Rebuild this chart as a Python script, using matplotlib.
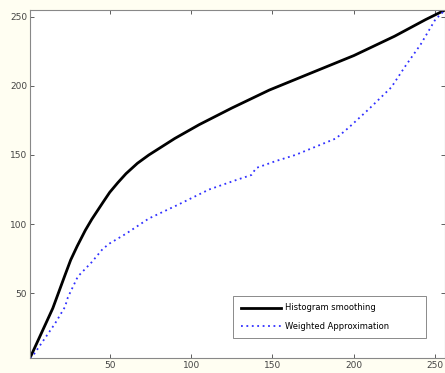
import numpy as np
import matplotlib.pyplot as plt

# curve values
hist_x = [1, 8, 15, 22.5, 26, 30, 35, 39, 46, 50, 55, 60, 67, 74, 82, 90, 105, 125, 148, 175, 200, 225, 244, 256]
hist_y = [3, 21, 39, 63, 74, 84, 95.5, 103.5, 116, 123, 130, 136.5, 144, 150, 156, 162, 172, 184, 197, 210, 222, 236, 248, 255]

wa_x = [1, 3, 10, 16.4, 22.5, 24.3, 30.4, 39, 45.7, 50, 60, 74, 92, 111, 128, 137, 140, 152, 164,
        189, 197, 209, 223, 232, 241, 250, 256]
wa_y = [3, 5, 17, 28, 40, 47, 62, 72.5, 82, 86, 93, 104, 114, 125, 132, 135.5, 140.6, 145.6, 150,
        162, 170, 183, 199, 215, 230, 248, 255]

ticks = [50, 100, 150, 200, 250]

fig = plt.figure(figsize=(4.45, 3.73), dpi=100, facecolor='#fffef2')
ax = fig.add_axes([30 / 445, 15 / 373, 415 / 445, 348 / 373])
ax.set_facecolor('white')

ax.plot(hist_x, hist_y, color='black', lw=2.0, label='Histogram smoothing')
ax.plot(wa_x, wa_y, color='#3030ff', lw=1.3, ls=(0, (1, 2)), label='Weighted Approximation')

ax.set_xlim(1, 256)
ax.set_ylim(3, 255)
ax.set_xticks(ticks)
ax.set_yticks(ticks)
ax.tick_params(direction='in', top=True, right=True, labelsize=6.5,
               colors='#444444', length=3, width=0.6, pad=2)
for s in ax.spines.values():
    s.set_color('#888888')
    s.set_linewidth(0.8)

leg = ax.legend(loc='lower left', bbox_to_anchor=(0.49, 0.057, 0.464, 0.124), mode='expand',
                borderaxespad=0, fontsize=6, frameon=True, fancybox=False, handlelength=4.8,
                handletextpad=0.5, borderpad=0.9, labelspacing=1.1)
leg.get_frame().set_edgecolor('#555555')
leg.get_frame().set_linewidth(0.6)

fig.savefig('out.png', dpi=100, facecolor=fig.get_facecolor())
